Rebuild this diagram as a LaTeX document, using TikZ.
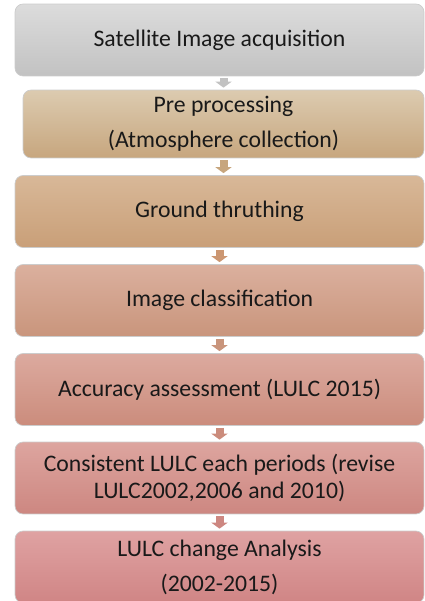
\documentclass[tikz,border=0pt]{standalone}
\usepackage{fontspec}
\setmainfont{Carlito}
\usetikzlibrary{arrows.meta}

\definecolor{satT}{HTML}{DCDCDC}\definecolor{satB}{HTML}{C2C2C2}
\definecolor{preT}{HTML}{DCCBB0}\definecolor{preB}{HTML}{C7A67E}
\definecolor{grdT}{HTML}{D8B898}\definecolor{grdB}{HTML}{C99F78}
\definecolor{clsT}{HTML}{DBB09E}\definecolor{clsB}{HTML}{C9957C}
\definecolor{accT}{HTML}{DCAA9F}\definecolor{accB}{HTML}{CB8C7C}
\definecolor{conT}{HTML}{DDA59F}\definecolor{conB}{HTML}{CD8781}
\definecolor{chgT}{HTML}{DFA2A2}\definecolor{chgB}{HTML}{D08585}

\begin{document}
\begin{tikzpicture}[x=0.02cm, y=-0.02cm, font=\fontsize{13.5}{15.5}\selectfont]
\tikzset{stage/.style={rounded corners=0.16cm, draw=black!20, line width=0.4pt, minimum width=8.18cm, minimum height=1.44cm, align=center, inner sep=0pt, text=black!90},
flow/.style={line width=0.16cm, -{Triangle[width=0.32cm, length=0.12cm]}, shorten <=0.04cm, shorten >=0.04cm}}

\useasboundingbox (0,0) rectangle (425,601);

\node[stage, top color=satT, bottom color=satB] (sat) at (219.5,40) {Satellite Image acquisition}; %step 1
\node[stage, top color=preT, bottom color=preB, minimum width=8.02cm, minimum height=1.36cm] (pre) at (223.5,124) {Pre processing\\[4.5pt](Atmosphere collection)}; %step 2
\node[stage, top color=grdT, bottom color=grdB] (grd) at (219.5,211.5) {Ground thruthing}; %step 3
\node[stage, top color=clsT, bottom color=clsB] (cls) at (219.5,300.5) {Image classification}; %step 4
\node[stage, top color=accT, bottom color=accB] (acc) at (219.5,389.5) {Accuracy assessment (LULC 2015)}; %step 5
\node[stage, top color=conT, bottom color=conB] (con) at (219.5,478) {Consistent LULC each periods (revise\\LULC2002,2006 and 2010)}; %step 6
\node[stage, top color=chgT, bottom color=chgB] (chg) at (219.5,567) {LULC change Analysis\\[4.5pt](2002-2015)}; %step 7

\draw[flow, satB] (pre.north |- sat.south) -- (pre.north);
\draw[flow, preB] (pre.south) -- (pre.south |- grd.north);
\draw[flow, grdB!95!red] (grd.south) -- (cls.north);
\draw[flow, clsB] (cls.south) -- (acc.north);
\draw[flow, accB] (acc.south) -- (con.north);
\draw[flow, conB] (con.south) -- (chg.north);

\end{tikzpicture}
\end{document}
